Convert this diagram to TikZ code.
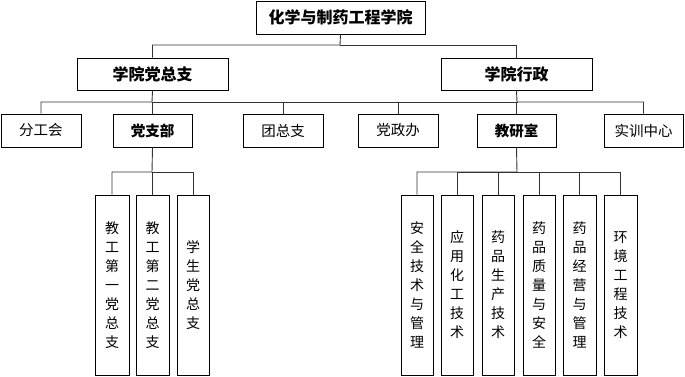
\documentclass[tikz,border=0pt]{standalone}
\usepackage{fontspec}
\setmainfont{Noto Sans CJK SC}
\usetikzlibrary{shadows}
\begin{document}
\begin{tikzpicture}[x=1pt,y=-1pt,
  box/.style={draw=black, line width=0.9pt, fill=white, inner sep=0pt, align=center,
    drop shadow={shadow xshift=1.2pt, shadow yshift=-1.2pt, fill=black!45, opacity=1}},
  lvlone/.style={box, minimum width=169pt, minimum height=33pt, font=\fontsize{16}{19}\selectfont\bfseries},
  lvltwo/.style={box, minimum width=151pt, minimum height=32pt, font=\fontsize{16}{19}\selectfont\bfseries},
  lvlthree/.style={box, minimum width=79pt, minimum height=33pt, font=\fontsize{14.5}{17}\selectfont},
  lvlthreeb/.style={lvlthree, font=\fontsize{14.5}{17}\selectfont\bfseries},
  vbox/.style={box, minimum width=33pt, minimum height=180pt, font=\fontsize{14}{19}\selectfont},
  conn/.style={draw=black!80, line width=0.9pt}]
\useasboundingbox (0,0) rectangle (685,377);

\coordinate (b1) at (340,45);
\coordinate (b2) at (152,102);
\coordinate (b3) at (517,102);
\coordinate (bm) at (363,102);
\coordinate (b4) at (152,172);
\coordinate (b5) at (517,172);

\node[lvlone] (top) at (340.5,17.5) {化学与制药工程学院};
\node[lvltwo] (dw) at (152.5,74) {学院党总支};
\node[lvltwo] (xz) at (516.5,74) {学院行政};

\node[lvlthree, minimum width=80pt] (fgh) at (41,130.5) {分工会};
\node[lvlthreeb] (dzb) at (152.5,130.5) {党支部};
\node[lvlthree, minimum width=80pt] (tzz) at (283,130.5) {团总支};
\node[lvlthree, minimum width=80pt] (dzh) at (398,130.5) {党政办};
\node[lvlthreeb] (jys) at (516.5,130.5) {教研室};
\node[lvlthree] (sxzx) at (643.5,130.5) {实训中心};

\node[vbox, minimum width=34pt] (z1) at (112,285) {教\\工\\第\\一\\党\\总\\支};
\node[vbox] (z2) at (152.5,285) {教\\工\\第\\二\\党\\总\\支};
\node[vbox, minimum width=32pt] (z3) at (193,285) {学\\生\\党\\总\\支};

\node[vbox, minimum width=32pt] (j1) at (417,285) {安\\全\\技\\术\\与\\管\\理};
\node[vbox, minimum width=32pt] (j2) at (457,285) {应\\用\\化\\工\\技\\术};
\node[vbox, minimum width=32pt] (j3) at (498,285) {药\\品\\生\\产\\技\\术};
\node[vbox, minimum width=32pt] (j4) at (539,285) {药\\品\\质\\量\\与\\安\\全};
\node[vbox] (j5) at (579.5,285) {药\\品\\经\\营\\与\\管\\理};
\node[vbox] (j6) at (620.5,285) {环\\境\\工\\程\\技\\术};

\draw[conn] (top.south) -- (b1) -| (dw.north);
\draw[conn] (b1) -| (xz.north);
\draw[conn] (dw.south) -- (b2) -| (fgh.north);
\draw[conn] (b2) -| (dzb.north);
\draw[conn] (b2) -| (tzz.north);
\draw[conn] (b2) -- (bm);
\draw[conn] (xz.south) -- (b3) -| (sxzx.north);
\draw[conn] (b3) -| (dzh.north);
\draw[conn] (b3) -| (jys.north);
\draw[conn] (b3) -- (bm);

\draw[conn] (dzb.south) -- (b4) -| (z1.north);
\draw[conn] (b4) -| (z2.north);
\draw[conn] (b4) -| (z3.north);
\draw[conn] (jys.south) -- (b5) -| (j1.north);
\foreach \n in {j2,j3,j4,j5,j6} \draw[conn] (b5) -| (\n.north);
\end{tikzpicture}
\end{document}
